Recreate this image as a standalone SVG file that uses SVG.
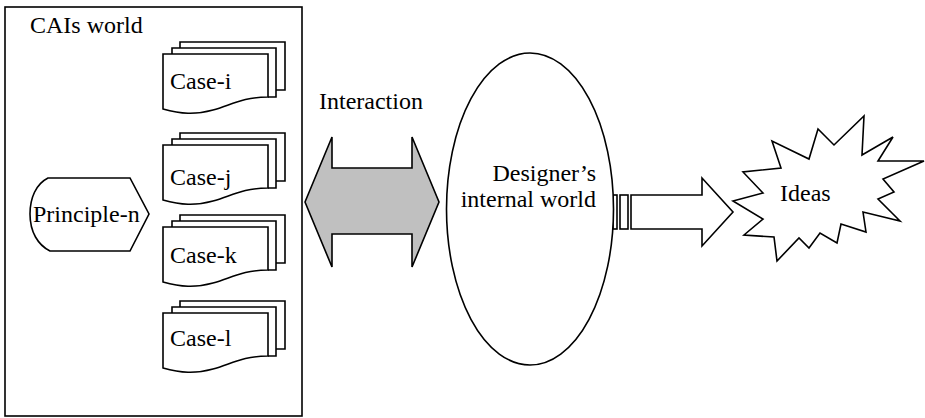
<svg xmlns="http://www.w3.org/2000/svg" width="925" height="418" viewBox="0 0 925 418">
<style>
  .ln { fill: #ffffff; stroke: #000000; stroke-width: 1.6; stroke-linejoin: miter; }
  .ol { fill: none; stroke: #000000; stroke-width: 1.6; }
  .t { font-family: "Liberation Serif", "Times New Roman", serif; font-size: 24px; fill: #000000; }
</style>
<defs>
  <g id="doc">
    <path class="ol" d="M17,6 V0 H122 V48 H113"/>
    <path class="ln" d="M9,12 V6 H113 V55 H105"/>
    <path class="ln" d="M0,12 H105 V55 C 80,55 68,63 50,68 C 32,73 18,72 0,67 Z"/>
  </g>
</defs>
<rect x="0" y="0" width="925" height="418" fill="#ffffff"/>
<g id="cais-world">
  <rect class="ln" x="5" y="7" width="297" height="409"/>
  <text class="t" x="30" y="33">CAIs world</text>
</g>
<g id="case-i">
  <use href="#doc" x="163" y="42"/>
  <text class="t" x="170" y="89">Case-i</text>
</g>
<g id="case-j">
  <use href="#doc" x="163" y="133"/>
  <text class="t" x="170" y="185">Case-j</text>
</g>
<g id="case-k">
  <use href="#doc" x="163" y="215"/>
  <text class="t" x="170" y="263">Case-k</text>
</g>
<g id="case-l">
  <use href="#doc" x="163" y="301"/>
  <text class="t" x="170" y="346">Case-l</text>
</g>
<g id="principle-n">
  <path class="ln" d="M48,178 H130 L149,214 L130,251 H50 C 38,245 30,232 30,214 C 30,198 36,184 48,178 Z"/>
  <text class="t" x="33" y="222">Principle-n</text>
</g>
<g id="connectors">
  <g id="interaction">
    <path d="M305,202 L332,137 V168 H412 V137 L439,202 L412,267 V234 H332 V267 Z" fill="#c0c0c0" stroke="#000000" stroke-width="1.6"/>
    <text class="t" x="319" y="109">Interaction</text>
  </g>
  <g id="to-ideas">
    <rect class="ln" x="613" y="195" width="4" height="34"/>
    <rect class="ln" x="620" y="195" width="8" height="34"/>
    <path class="ln" d="M631,195 H702 V178 L733,212 L702,246 V229 H631 Z"/>
  </g>
</g>
<g id="designer">
  <ellipse class="ln" cx="530" cy="209" rx="83.5" ry="156"/>
  <text class="t" x="596" y="181" text-anchor="end">Designer’s</text>
  <text class="t" x="596" y="207" text-anchor="end">internal world</text>
</g>
<g id="ideas">
  <path class="ln" d="M733,201 L763,193 L743,172 L781,168 L772,141 L809,159 L818,129 L834,145 L864,116 L862,155 L893,137 L878,161 L924,161 L883,179 L894,192 L878,199 L900,221 L863,212 L866,232 L841,224 L837,243 L820,233 L809,248 L799,238 L777,261 L774,237 L744,235 L763,219 Z"/>
  <text class="t" x="780" y="201">Ideas</text>
</g>
</svg>
